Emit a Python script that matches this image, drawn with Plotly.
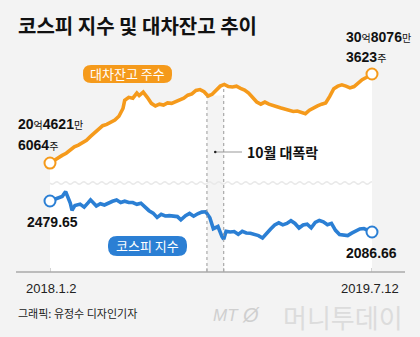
import numpy as np
import plotly.graph_objects as go

# ---------------- data ----------------
kospi_dates = ["2018-01-02","2018-01-09","2018-01-16","2018-01-23","2018-01-29","2018-02-02","2018-02-06","2018-02-09",
    "2018-02-14","2018-02-23","2018-03-02","2018-03-09","2018-03-13","2018-03-23","2018-03-30","2018-04-06",
    "2018-04-13","2018-04-20","2018-04-27","2018-05-04","2018-05-11","2018-05-18","2018-05-25","2018-06-01",
    "2018-06-08","2018-06-15","2018-06-22","2018-06-29","2018-07-06","2018-07-13","2018-07-20","2018-07-27",
    "2018-08-03","2018-08-10","2018-08-16","2018-08-24","2018-08-31","2018-09-07","2018-09-14","2018-09-21",
    "2018-09-28","2018-10-05","2018-10-11","2018-10-19","2018-10-26","2018-10-29","2018-11-02","2018-11-09",
    "2018-11-16","2018-11-23","2018-11-30","2018-12-07","2018-12-14","2018-12-21","2018-12-28","2019-01-04",
    "2019-01-11","2019-01-18","2019-01-25","2019-02-01","2019-02-08","2019-02-15","2019-02-22","2019-03-01",
    "2019-03-08","2019-03-15","2019-03-22","2019-03-29","2019-04-05","2019-04-12","2019-04-19","2019-04-26",
    "2019-05-03","2019-05-10","2019-05-17","2019-05-24","2019-05-31","2019-06-07","2019-06-14","2019-06-21",
    "2019-06-28","2019-07-05","2019-07-12"]
kospi_values = [2479.65,2500,2521,2537,2598,2525,2453,2363,
    2421,2440,2402,2459,2494,2416,2445,2429,
    2455,2476,2492,2461,2477,2460,2460,2438,
    2451,2404,2357,2326,2272,2310,2289,2294,
    2287,2282,2240,2293,2322,2287,2318,2339,
    2343,2267,2129,2156,2027,1996,2096,2086,
    2092,2057,2096,2075,2070,2061,2041,2010,
    2075,2124,2177,2203,2177,2196,2230,2195,
    2137,2176,2186,2140,2209,2233,2216,2179,
    2196,2108,2055,2045,2041,2072,2095,2125,
    2130,2110,2086.66]

# stock-lending balance, in 100-million shares (억주)
lend_dates = ["2018-01-02","2018-01-09","2018-01-16","2018-01-23","2018-01-30","2018-02-06","2018-02-13","2018-02-20",
    "2018-02-27","2018-03-06","2018-03-13","2018-03-20","2018-03-27","2018-04-03","2018-04-10","2018-04-17",
    "2018-04-24","2018-05-01","2018-05-08","2018-05-11","2018-05-18","2018-05-25","2018-06-01","2018-06-05",
    "2018-06-12","2018-06-19","2018-06-26","2018-07-03","2018-07-10","2018-07-17","2018-07-24","2018-07-31",
    "2018-08-07","2018-08-14","2018-08-21","2018-08-28","2018-09-04","2018-09-11","2018-09-18","2018-09-25",
    "2018-10-02","2018-10-09","2018-10-16","2018-10-23","2018-10-30","2018-11-06","2018-11-13","2018-11-20",
    "2018-11-27","2018-12-04","2018-12-11","2018-12-18","2018-12-25","2019-01-01","2019-01-08","2019-01-15",
    "2019-01-22","2019-01-29","2019-02-05","2019-02-12","2019-02-19","2019-02-26","2019-03-05","2019-03-12",
    "2019-03-19","2019-03-26","2019-04-02","2019-04-09","2019-04-16","2019-04-23","2019-04-30","2019-05-07",
    "2019-05-14","2019-05-21","2019-05-28","2019-06-04","2019-06-11","2019-06-18","2019-06-25","2019-07-02",
    "2019-07-09","2019-07-12"]
lend_values = [20.46,20.80,21.05,21.35,21.60,22.00,22.35,22.55,
    22.80,23.10,23.55,23.95,24.30,24.80,24.95,25.20,
    25.45,25.90,26.80,27.75,28.10,28.00,28.60,28.30,
    28.70,28.10,27.40,27.10,27.30,27.20,27.45,27.40,
    27.60,27.80,28.00,28.35,28.50,28.90,29.00,28.75,
    28.25,28.45,29.00,29.40,29.60,29.35,29.30,29.40,
    29.15,28.95,28.60,28.10,27.55,27.30,27.55,27.30,
    27.20,27.00,26.85,26.70,26.55,26.45,26.50,26.35,
    26.20,26.60,26.90,27.10,27.30,27.45,28.20,29.10,
    29.40,29.55,29.40,29.20,29.35,29.80,30.15,30.40,
    30.70,30.81]

crash_start, crash_end = "2018-09-30", "2018-10-29"
crash_lend_levels = [28.3, 29.5]

ORANGE = "#f59a1b"
BLUE = "#2b7fd4"
BG = "#f3f3f3"
NUM = "Liberation Sans, Arial, sans-serif"
KR = "Noto Sans CJK KR, sans-serif"

# plot-area geometry (pixels)
L, R, T, B = 50, 372, 20, 272
W, H = R - L, B - T
def px(x): return (x - L) / W
def py(y): return (B - y) / H

Y1 = [7.79, 37.09]
Y2 = [1579.6, 4774.2]

fig = go.Figure()
# white area under the lending line
fig.add_trace(go.Scatter(x=lend_dates, y=lend_values, mode="lines", line=dict(width=0),
                         fill="tozeroy", fillcolor="white", hoverinfo="skip"))
# crash band
fig.add_trace(go.Scatter(x=[crash_start, crash_start, crash_end, crash_end],
                         y=[Y1[0], crash_lend_levels[0], crash_lend_levels[0], Y1[0]],
                         mode="lines", line=dict(width=0), fill="toself",
                         fillcolor="rgba(0,0,0,0.045)", hoverinfo="skip"))
fig.add_trace(go.Scatter(x=lend_dates, y=lend_values, mode="lines",
                         line=dict(color=ORANGE, width=3.6), hoverinfo="skip"))
fig.add_trace(go.Scatter(x=[lend_dates[0], lend_dates[-1]], y=[lend_values[0], lend_values[-1]],
                         mode="markers", cliponaxis=False,
                         marker=dict(size=11, color="white", line=dict(color=ORANGE, width=2))))
fig.add_trace(go.Scatter(x=kospi_dates, y=kospi_values, mode="lines", yaxis="y2",
                         line=dict(color=BLUE, width=3.6), hoverinfo="skip"))
fig.add_trace(go.Scatter(x=[kospi_dates[0], kospi_dates[-1]], y=[kospi_values[0], kospi_values[-1]],
                         mode="markers", yaxis="y2", cliponaxis=False,
                         marker=dict(size=11, color="white", line=dict(color=BLUE, width=2))))

shapes = []
# wavy break line
wx = np.arange(L, R + 1, 1.0)
wy = 183 + 1.2 * np.sin(2 * np.pi * (wx - L) / 9.0)
path = "M " + " L ".join(f"{px(a):.5f},{py(b):.5f}" for a, b in zip(wx, wy))
shapes.append(dict(type="path", xref="paper", yref="paper", path=path,
                   line=dict(color="#e9e9e9", width=1.5), layer="above"))
# dotted crash lines
for d, lvl in zip([crash_start, crash_end], crash_lend_levels):
    shapes.append(dict(type="line", xref="x", yref="y", x0=d, x1=d, y0=Y1[0], y1=lvl - 0.15,
                       line=dict(color="#9a9a9a", width=1, dash="dot"), layer="above"))
# baseline axis
shapes.append(dict(type="line", xref="paper", yref="paper", x0=px(16), x1=px(405), y0=0, y1=0,
                   line=dict(color="#aaaaaa", width=1.5)))
for d in [lend_dates[0], crash_start, crash_end, lend_dates[-1]]:
    shapes.append(dict(type="line", xref="x", yref="paper", x0=d, x1=d, y0=0, y1=py(268),
                       line=dict(color="#aaaaaa", width=1)))

def pill(x0, y0, x1, y1, r, color):
    pts = [f"M {px(x0+r)},{py(y0)}", f"L {px(x1-r)},{py(y0)}", f"Q {px(x1)},{py(y0)} {px(x1)},{py(y0+r)}",
           f"L {px(x1)},{py(y1-r)}", f"Q {px(x1)},{py(y1)} {px(x1-r)},{py(y1)}",
           f"L {px(x0+r)},{py(y1)}", f"Q {px(x0)},{py(y1)} {px(x0)},{py(y1-r)}",
           f"L {px(x0)},{py(y0+r)}", f"Q {px(x0)},{py(y0)} {px(x0+r)},{py(y0)}", "Z"]
    return dict(type="path", xref="paper", yref="paper", path=" ".join(pts),
                fillcolor=color, line=dict(width=0), layer="above")
shapes.append(pill(83, 65, 172, 83, 8, ORANGE))
shapes.append(pill(108, 236, 187, 256, 9, BLUE))
# leader for crash label
shapes.append(dict(type="line", xref="paper", yref="paper", x0=px(215), x1=px(242), y0=py(152), y1=py(152),
                   line=dict(color="#999999", width=1)))
shapes.append(dict(type="circle", xref="paper", yref="paper", x0=px(214), x1=px(216.5), y0=py(150.8), y1=py(153.2),
                   fillcolor="#222222", line=dict(width=0)))

ann = []
def text(x, y, s, size=13, color="#111", family=KR, xanchor="left"):
    ann.append(dict(xref="paper", yref="paper", x=px(x), y=py(y), text=s, showarrow=False,
                    xanchor=xanchor, yanchor="middle", font=dict(size=size, color=color, family=family)))

sm = "<span style='font-family:Noto Sans CJK KR;font-size:10px;font-weight:normal'>{}</span>"
text(16, 25, "<b>코스피 지수 및 대차잔고 추이</b>", size=20, color="#111")
text(127.5, 73.5, "대차잔고 주수", size=13, color="white", xanchor="center")
text(147.5, 245.5, "코스피 지수", size=13, color="white", xanchor="center")
text(16, 124, "<b>20</b>" + sm.format("억") + "<b>4621</b>" + sm.format("만"), size=14, family=NUM)
text(16, 145, "<b>6064</b>" + sm.format("주"), size=14, family=NUM)
text(344, 37, "<b>30</b>" + sm.format("억") + "<b>8076</b>" + sm.format("만"), size=14, family=NUM)
text(344, 57, "<b>3623</b>" + sm.format("주"), size=14, family=NUM)
text(25, 222, "<b>2479.65</b>", size=14, family=NUM)
text(344, 253, "<b>2086.66</b>", size=14, family=NUM)
text(245, 152, "<b>10월 대폭락</b>", size=14)
text(24, 288, "2018.1.2", size=13, family=NUM, color="#222")
text(401, 288, "2019.7.12", size=13, family=NUM, color="#222", xanchor="right")
text(16, 313, "그래픽: 유정수 디자인기자", size=11, color="#222")
text(211, 315, "<i>MT</i>", size=17, color="#cfcfcf", family="Liberation Sans, sans-serif")
text(240, 315, "<i>Ø</i>", size=20, color="#cfcfcf", family="Liberation Sans, sans-serif")
text(405, 316, "머니투데이", size=26, color="#dcdcdc", xanchor="right")

fig.update_layout(
    width=420, height=337, paper_bgcolor=BG, plot_bgcolor=BG,
    margin=dict(l=L, r=420 - R, t=T, b=337 - B),
    showlegend=False, shapes=shapes, annotations=ann,
    xaxis=dict(type="date", range=[lend_dates[0], lend_dates[-1]], visible=False, fixedrange=True),
    yaxis=dict(range=Y1, visible=False, fixedrange=True),
    yaxis2=dict(range=Y2, visible=False, overlaying="y", fixedrange=True),
)
fig.write_html("out.html", config={"displayModeBar": False})
